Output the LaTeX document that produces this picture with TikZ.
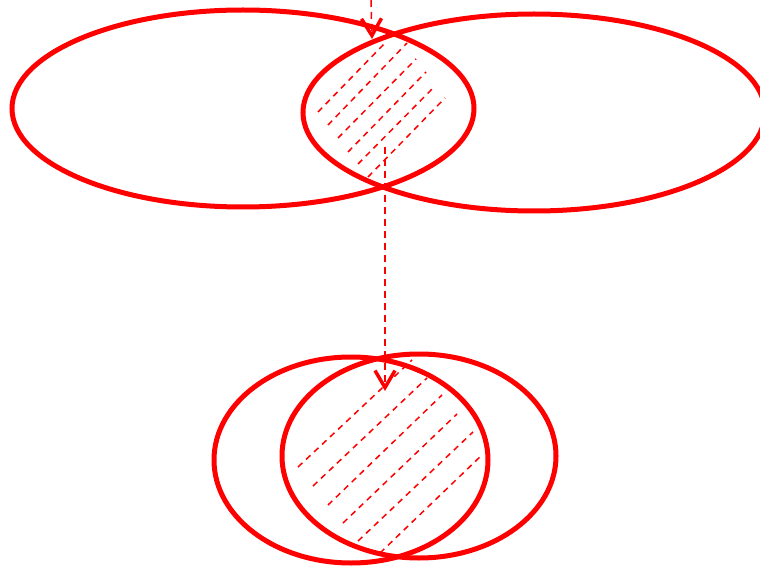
\documentclass[tikz,border=0pt]{standalone}
\usetikzlibrary{arrows.meta}
\begin{document}
\begin{tikzpicture}[x=1pt,y=-1pt,
  ell/.style={draw=red, line width=5pt},
  hat/.style={red, line width=1.5pt, dash pattern=on 6pt off 5pt},
  con/.style={red, line width=1.5pt, dash pattern=on 7pt off 5pt,
    -{Straight Barb[length=17pt,width=20pt,line width=3.5pt]}}]
\useasboundingbox (0,0) rectangle (760,569);
\begin{scope}
\clip (0,0) rectangle (760,569);
% top pair
\draw[ell] (243,108.5) ellipse [x radius=231pt, y radius=98.5pt];
\draw[ell] (534,112.5) ellipse [x radius=231pt, y radius=98.5pt];
% bottom pair
\draw[ell] (351,460) ellipse [x radius=137pt, y radius=103pt];
\draw[ell] (419,456) ellipse [x radius=137pt, y radius=102pt];
% hatching top
\draw[hat] (318,112) -- (385,43);
\draw[hat] (328,125) -- (407,43);
\draw[hat] (338,138) -- (416,59);
\draw[hat] (348,152) -- (426,72);
\draw[hat] (358,164) -- (435,86);
\draw[hat] (368,177) -- (445,98);
% hatching bottom
\draw[hat] (298,467) -- (412,360);
\draw[hat] (313,486) -- (427,378);
\draw[hat] (328,505) -- (442,395);
\draw[hat] (343,523) -- (457,414);
\draw[hat] (358,541) -- (473,432);
\draw[hat] (380,553) -- (483,454);
% connectors
\coordinate (a1) at (371,0);
\coordinate (a2) at (372,39);
\coordinate (b1) at (385,147);
\coordinate (b2) at (385,391);
\draw[con] (a1) -- (a2);
\draw[con] (b1) -- (b2);
\end{scope}
\end{tikzpicture}
\end{document}
